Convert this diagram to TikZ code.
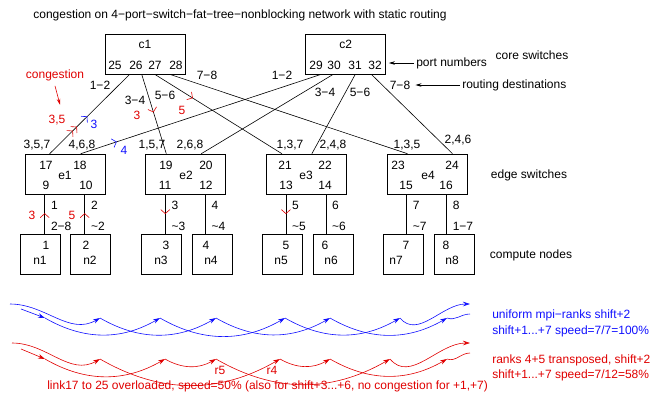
\documentclass[tikz,border=0pt]{standalone}
\usepackage{fontspec}
\setmainfont{Liberation Sans}
\usepackage{tikz}
\usetikzlibrary{arrows.meta, positioning, calc, decorations.markings}
\definecolor{congred}{HTML}{E00000}
\definecolor{rankblue}{HTML}{1010FF}
\newcommand{\mn}{\char"2212\relax}
\newcommand{\tl}{\textasciitilde}

\begin{document}
\begin{tikzpicture}[
    x=1pt, y=-1pt,
    font=\fontsize{12}{14}\selectfont,
    line width=0.6pt,
    switchbox/.style={draw, minimum width=80pt, minimum height=40pt, inner sep=0pt},
    hostbox/.style={draw, minimum width=40pt, minimum height=40pt, inner sep=0pt},
    lbl/.style={inner sep=0pt},
    redlbl/.style={inner sep=0pt, text=congred},
    bluelbl/.style={inner sep=0pt, text=rankblue},
    link/.style={draw},
    note/.style={draw, -{Stealth[length=6pt,width=3.5pt]}},
    congnote/.style={draw=congred, -{Stealth[length=6pt,width=3.5pt]}},
    flow/.style={-{Stealth[length=7pt,width=4.5pt]}},
    fwdmark/.style 2 args={postaction={decorate, decoration={markings,
        mark=at position #2 with {\arrow{Straight Barb[length=4pt,width=9pt,color=#1]}}}}},
    backmark/.style 2 args={postaction={decorate, decoration={markings,
        mark=at position #2 with {\arrowreversed{Straight Barb[length=4pt,width=9pt,color=#1]}}}}}
]
  \useasboundingbox (0,0) rectangle (662,405);

  \node[lbl] (title) at (240,15) {congestion on 4\mn port\mn switch\mn fat\mn tree\mn nonblocking network with static routing};

  % Core switches
  \node[switchbox] (c1) at (145,54) {};
  \node[switchbox, right=120pt of c1] (c2) {};
  \node[lbl] (c1name) at ($(c1.north)+(0,11)$) {c1};
  \node[lbl] (c2name) at ($(c2.north)+(0,11)$) {c2};
  \foreach \port/\x in {25/115, 26/136, 27/155, 28/176, 29/316, 30/334, 31/355, 32/375}
    \node[lbl] (lp\port) at (\x,65) {\port};

  % Edge switches
  \node[switchbox] (e1) at (65,174) {};
  \node[switchbox, right=40pt of e1] (e2) {};
  \node[switchbox, right=40pt of e2] (e3) {};
  \node[switchbox, right=40pt of e3] (e4) {};
  \foreach \port/\x/\y in {17/46/165, 18/80/165, 9/46/185, 10/86/185,
                           19/166/165, 20/206/165, 11/165/185, 12/206/185,
                           21/285/165, 22/325/165, 13/286/185, 14/325/185,
                           23/398/165, 24/452/165, 15/406/185, 16/446/185}
    \node[lbl] (lp\port) at (\x,\y) {\port};
  \foreach \e/\x in {1/65, 2/186, 3/306, 4/428}
    \node[lbl] (le\e) at (\x,175) {e\e};

  % Compute nodes
  \node[hostbox] (n1) at (40,254) {};
  \node[hostbox, right=10pt of n1] (n2) {};
  \node[hostbox, right=30pt of n2] (n3) {};
  \node[hostbox, right=10pt of n3] (n4) {};
  \node[hostbox, right=30pt of n4] (n5) {};
  \node[hostbox, right=10pt of n5] (n6) {};
  \node[hostbox, right=30pt of n6] (n7) {};
  \node[hostbox, right=10pt of n7] (n8) {};
  \foreach \k/\nx/\mx in {1/46/40, 2/86/90, 3/166/161, 4/206/211, 5/286/281, 6/325/331, 7/406/396, 8/446/452} {
    \node[lbl] (ln\k) at (\nx,245) {\k};
    \node[lbl] (nn\k) at (\mx,260) {n\k};
  }

  % Port anchors
  \foreach \port/\sw/\dx in {25/c1/25, 26/c1/37, 27/c1/50, 28/c1/65, 29/c2/16, 30/c2/28, 31/c2/50, 32/c2/66,
                             9/e1/20, 10/e1/60, 11/e2/20, 12/e2/60, 13/e3/20, 14/e3/60, 15/e4/20, 16/e4/60}
    \coordinate (p\port) at ($(\sw.south west)+(\dx,0)$);
  \foreach \port/\sw/\dx in {17/e1/25, 18/e1/56, 19/e2/21, 20/e2/56, 21/e3/16, 22/e3/46, 23/e4/21, 24/e4/66}
    \coordinate (p\port) at ($(\sw.north west)+(\dx,0)$);

  % Core links
  \draw[link, backmark={rankblue}{0.53}, backmark={congred}{0.66}, backmark={congred}{0.71}] (p25) -- (p17);
  \draw[link, fwdmark={congred}{0.48}] (p26) -- (p19);
  \draw[link, fwdmark={congred}{0.3}] (p27) -- (p21);
  \draw[link] (p28) -- (p23);
  \draw[link, backmark={rankblue}{0.85}] (p29) -- (p18);
  \draw[link] (p30) -- (p20);
  \draw[link] (p31) -- (p22);
  \draw[link] (p32) -- (p24);

  \foreach \name/\x/\y/\txt in {c1r12/100/85/1\mn 2, c1r34/135/100/3\mn 4, c1r56/165/95/5\mn 6, c1r78/207/75/7\mn 8,
                                c2r12/282/75/1\mn 2, c2r34/325/92/3\mn 4, c2r56/360/92/5\mn 6, c2r78/400/85/7\mn 8,
                                d17/37/145/{3,5,7}, d18/82/145/{4,6,8}, d19/152/145/{1,5,7}, d20/190/145/{2,6,8},
                                d21/290/145/{1,3,7}, d22/333/145/{2,4,8}, d23/407/145/{1,3,5}, d24/458/140/{2,4,6}}
    \node[lbl] (\name) at (\x,\y) {\txt};

  % Host links
  \draw[link, backmark={congred}{0.48}] (p9) -- (p9 |- n1.north);
  \draw[link, backmark={congred}{0.48}] (p10) -- (p10 |- n2.north);
  \draw[link, fwdmark={congred}{0.5}] (p11) -- (p11 |- n3.north);
  \draw[link] (p12) -- (p12 |- n4.north);
  \draw[link, fwdmark={congred}{0.5}] (p13) -- (p13 |- n5.north);
  \draw[link] (p14) -- (p14 |- n6.north);
  \draw[link] (p15) -- (p15 |- n7.north);
  \draw[link] (p16) -- (p16 |- n8.north);

  \foreach \port/\dst in {9/2\mn 8, 10/\tl 2, 11/\tl 3, 12/\tl 4, 13/\tl 5, 14/\tl 6, 15/\tl 7, 16/1\mn 7} {
    \pgfmathtruncatemacro{\hop}{\port-8}
    \node[lbl, anchor=west] (hp\port) at ($(p\port)+(6,11)$) {\hop};
    \node[lbl, anchor=west] (hd\port) at ($(p\port)+(6,32)$) {\dst};
  }

  % Congestion notes
  \node[redlbl] (cong) at (55,75) {congestion};
  \node[redlbl] (c35) at (57,120) {3,5};
  \draw[congnote] ($(cong.south)+(0,5)$) -- ($(c35.north)+(3,-10)$);
  \node[redlbl] (up3) at (32,215) {3};
  \node[redlbl] (up5) at (72,215) {5};
  \node[redlbl] (dn3) at (137,115) {3};
  \node[redlbl] (dn5) at (182,110) {5};
  \node[bluelbl] (bl3) at (94,124) {3};
  \node[bluelbl] (bl4) at (124,150) {4};

  % Legend on the right
  \node[lbl] (corelbl) at (532,55) {core switches};
  \node[lbl, anchor=west] (portnote) at (416,63) {port numbers};
  \node[lbl, anchor=west] (routenote) at (462,85) {routing destinations};
  \node[lbl] (edgelbl) at (529,175) {edge switches};
  \node[lbl] (hostlbl) at (531,255) {compute nodes};
  \draw[note, shorten <=2pt, shorten >=3pt] (portnote.west) -- (portnote.west -| c2.east);
  \draw[note, shorten <=2pt, shorten >=5pt] (routenote.west) -- (c2r78.east);

  % Rank shift patterns
  \foreach \k/\x in {1/45, 2/100, 3/160, 4/216, 5/285, 6/330, 7/400, 8/447}
    \coordinate (bl\k) at (\x,318);
  \foreach \k/\x in {1/45, 2/100, 3/165, 4/280, 5/216, 6/330, 7/390, 8/447}
    \coordinate (rk\k) at (\x,359);
  \coordinate (blin7) at (21,309);  \coordinate (blin8) at (10,304);
  \coordinate (blout7) at (470,304); \coordinate (blout8) at (470,314);
  \coordinate (rkin7) at (21,349);  \coordinate (rkin8) at (12,343);
  \coordinate (rkout7) at (470,343); \coordinate (rkout8) at (470,353);

  \begin{scope}[rankblue]
    \foreach \i [evaluate=\i as \j using int(\i+2)] in {1,...,6}
      \draw[flow] (bl\i) to[out=-30, in=-150] (bl\j);
    \draw[flow] (blin8) to[out=0, in=-150] (bl2);
    \draw[flow] (blin7) -- (bl1);
    \draw[flow] (bl7) to[out=-50, in=180] (blout7);
    \draw (bl8) to[out=-20, in=180] (blout8);
  \end{scope}

  \begin{scope}[congred]
    \foreach \i [evaluate=\i as \j using int(\i+2)] in {1,...,6}
      \draw[flow] (rk\i) to[out=-30, in=-150] (rk\j);
    \draw[flow] (rkin8) to[out=0, in=-150] (rk2);
    \draw[flow] (rkin7) -- (rk1);
    \draw[flow] (rk7) to[out=-50, in=180] (rkout7);
    \draw (rk8) to[out=-20, in=180] (rkout8);
  \end{scope}

  \node[redlbl] (r5lbl) at (220,370) {r5};
  \node[redlbl] (r4lbl) at (272,370) {r4};

  \node[bluelbl, anchor=west] (leg1) at (492,315) {uniform mpi\mn ranks shift+2};
  \node[bluelbl, anchor=west] (leg2) at (492,331) {shift+1...+7 speed=7/7=100\%};
  \node[redlbl, anchor=west] (leg3) at (492,360) {ranks 4+5 transposed, shift+2};
  \node[redlbl, anchor=west] (leg4) at (492,375) {shift+1...+7 speed=7/12=58\%};
  \node[redlbl, anchor=west] (leg5) at (47,386) {link17 to 25 overloaded, speed=50\% (also for shift+3...+6, no congestion for +1,+7)};
\end{tikzpicture}
\end{document}
